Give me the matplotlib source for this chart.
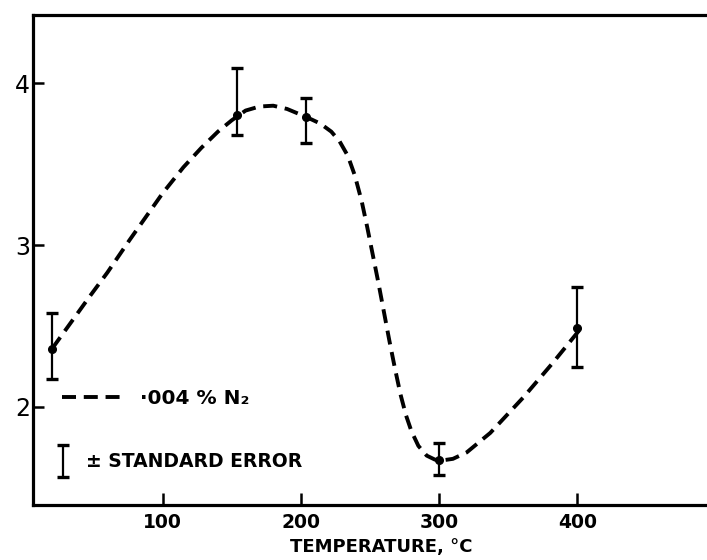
import matplotlib
matplotlib.use("Agg")
import matplotlib.pyplot as plt
from matplotlib.legend_handler import HandlerErrorbar
from matplotlib.container import ErrorbarContainer

# measured points with standard error (lower, upper)
temps = [20, 154, 204, 300, 400]
values = [2.36, 3.80, 3.79, 1.67, 2.49]
err_low = [0.19, 0.12, 0.16, 0.09, 0.24]
err_high = [0.22, 0.29, 0.12, 0.11, 0.25]

# hand-drawn curve through the points
curve_t = [20, 47, 60, 76, 100, 115, 128, 140, 150, 160, 170, 180, 190,
           204, 214, 222, 228, 234, 239, 244, 248, 252, 256, 260, 264,
           268, 272, 276, 280, 285, 291, 297, 302, 310, 320, 337, 361, 382, 402]
curve_v = [2.36, 2.68, 2.83, 3.03, 3.32, 3.48, 3.60, 3.70, 3.77, 3.83,
           3.855, 3.86, 3.84, 3.79, 3.75, 3.70, 3.64, 3.55, 3.43, 3.27,
           3.11, 2.94, 2.77, 2.59, 2.41, 2.24, 2.08, 1.95, 1.85, 1.76,
           1.70, 1.675, 1.67, 1.68, 1.72, 1.84, 2.06, 2.27, 2.48]

x_ticks = [100, 200, 300, 400]
y_ticks = [2, 3, 4]

fig = plt.figure(figsize=(7.07, 5.6), dpi=100)
ax = fig.add_axes([33 / 707, 55 / 560, 674 / 707, 490 / 560])

line, = ax.plot(curve_t, curve_v, color="black", lw=2.8,
                linestyle=(0, (3.6, 2.0)))
line.set_dash_capstyle("butt")
eb = ax.errorbar(temps, values, yerr=[err_low, err_high], fmt="none",
                 ecolor="black", elinewidth=1.6, capsize=4, capthick=2.4)
ax.plot(temps, values, "o", color="black", markersize=5.5)

ax.set_xlim(6.2, 493.8)
ax.set_ylim(1.395, 4.42)
ax.set_xticks(x_ticks)
ax.set_yticks(y_ticks)
ax.tick_params(axis="x", direction="in", length=9, width=1.8, pad=6,
               labelsize=13.5)
ax.tick_params(axis="y", direction="in", length=8, width=1.8, pad=2,
               labelsize=17)
for lab in ax.get_xticklabels():
    lab.set_fontweight("bold")

ax.spines["right"].set_visible(False)
for side in ("left", "top", "bottom"):
    ax.spines[side].set_linewidth(2.3)

ax.set_xlabel("TEMPERATURE, °C", fontsize=13, fontweight="bold")
ax.xaxis.set_label_coords(0.516, -0.067)
ax.xaxis.label.set_va("top")

# legend: dashed curve key
leg1 = ax.legend([line], ["·004 % N₂"], loc="center left",
                 bbox_to_anchor=(0.043, 0.218), frameon=False,
                 borderpad=0, borderaxespad=0, handlelength=3.25,
                 handletextpad=0.62, prop={"size": 14.5, "weight": "bold"})
ax.add_artist(leg1)

# legend: error bar key
ax.legend([eb], ["± STANDARD ERROR"], loc="center left",
          bbox_to_anchor=(0.034, 0.088), frameon=False,
          borderpad=0, borderaxespad=0, handlelength=0.8,
          handletextpad=0.8, prop={"size": 13.5, "weight": "bold"},
          handler_map={ErrorbarContainer: HandlerErrorbar(xerr_size=0.5,
                                                          yerr_size=0.85)})

fig.savefig("out.png", dpi=100)
